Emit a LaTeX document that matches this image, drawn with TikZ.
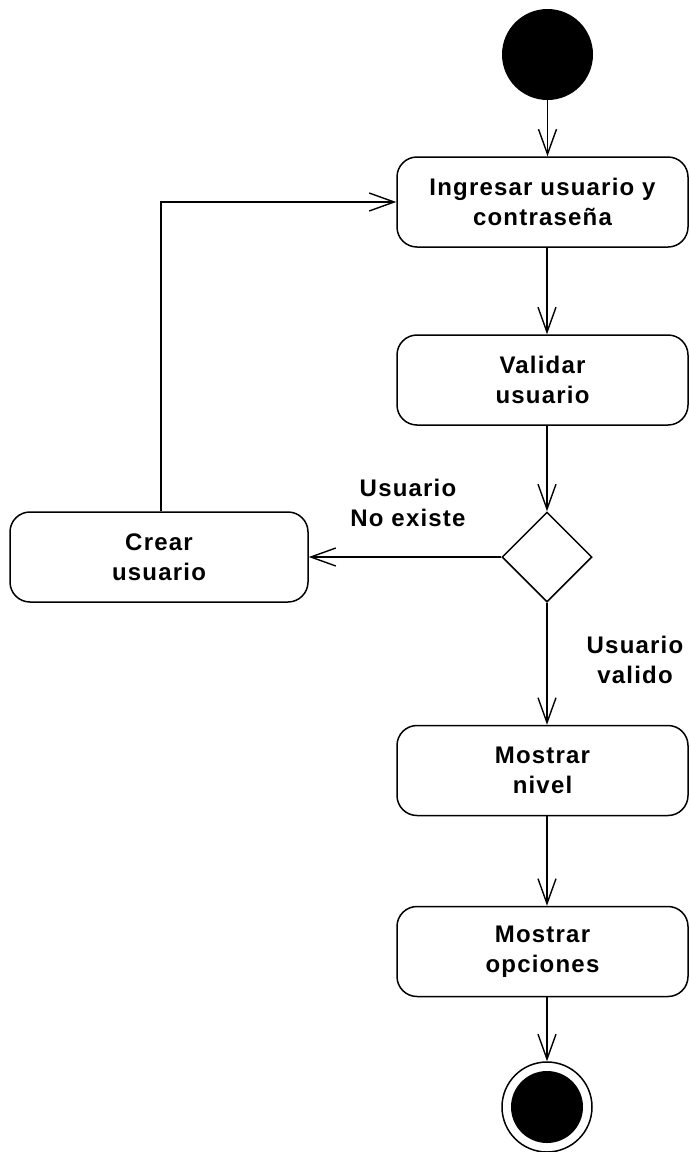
\documentclass[tikz,border=0pt]{standalone}
\usepackage{fontspec}
\setmainfont{Liberation Sans}[LetterSpace=5]
\usetikzlibrary{arrows.meta,shapes.geometric}
\begin{document}
\begin{tikzpicture}[x=1pt,y=-1pt,
  every node/.style={font=\fontsize{24}{30}\selectfont\bfseries},
  act/.style={draw,line width=1.5pt,rounded corners=20pt,minimum width=291pt,minimum height=90pt,align=center,inner sep=0pt},
  dec/.style={draw,line width=1.5pt,diamond,aspect=1,minimum width=90pt,minimum height=90pt,inner sep=0pt},
  flow/.style={line width=1.4pt,-{Straight Barb[length=25pt,width=18pt]}},
  lbl/.style={align=center,inner sep=0pt}]
\useasboundingbox (0,0) rectangle (689,1152);
\node[circle,fill=black,minimum size=91pt,inner sep=0pt] (start) at (547.5,54.5) {};
\node[act] (b1) at (542.5,202) {Ingresar usuario y\\contraseña};
\node[act] (b2) at (542.5,380) {Validar\\usuario};
\node[dec] (d) at (547,557) {};
\node[act,minimum width=298pt] (crear) at (159,557) {Crear\\usuario};
\node[act] (b3) at (542.5,770.5) {Mostrar\\nivel};
\node[act] (b4) at (542.5,951.5) {Mostrar\\opciones};
\node[circle,draw,line width=1.5pt,minimum size=90pt,inner sep=0pt] (endo) at (547,1107) {};
\node[circle,fill=black,minimum size=72pt,inner sep=0pt] (endi) at (endo) {};
\node[lbl] (l1) at (408,503) {Usuario\\No existe};
\node[lbl] (l2) at (635,660) {Usuario\\valido};
\draw[flow] (start) -- (start |- b1.north);
\draw[flow] (b1.south -| d) -- (b2.north -| d);
\draw[flow] (b2.south -| d) -- (d.north);
\draw[flow] (d.west) -- (crear.east |- d.west);
\draw[flow] (d.south) -- (b3.north -| d);
\draw[flow] (b3.south -| d) -- (b4.north -| d);
\draw[flow] (b4.south -| d) -- (endo.north);
\draw[flow] (crear.north -| 161,0) |- (b1.west);
\end{tikzpicture}
\end{document}
